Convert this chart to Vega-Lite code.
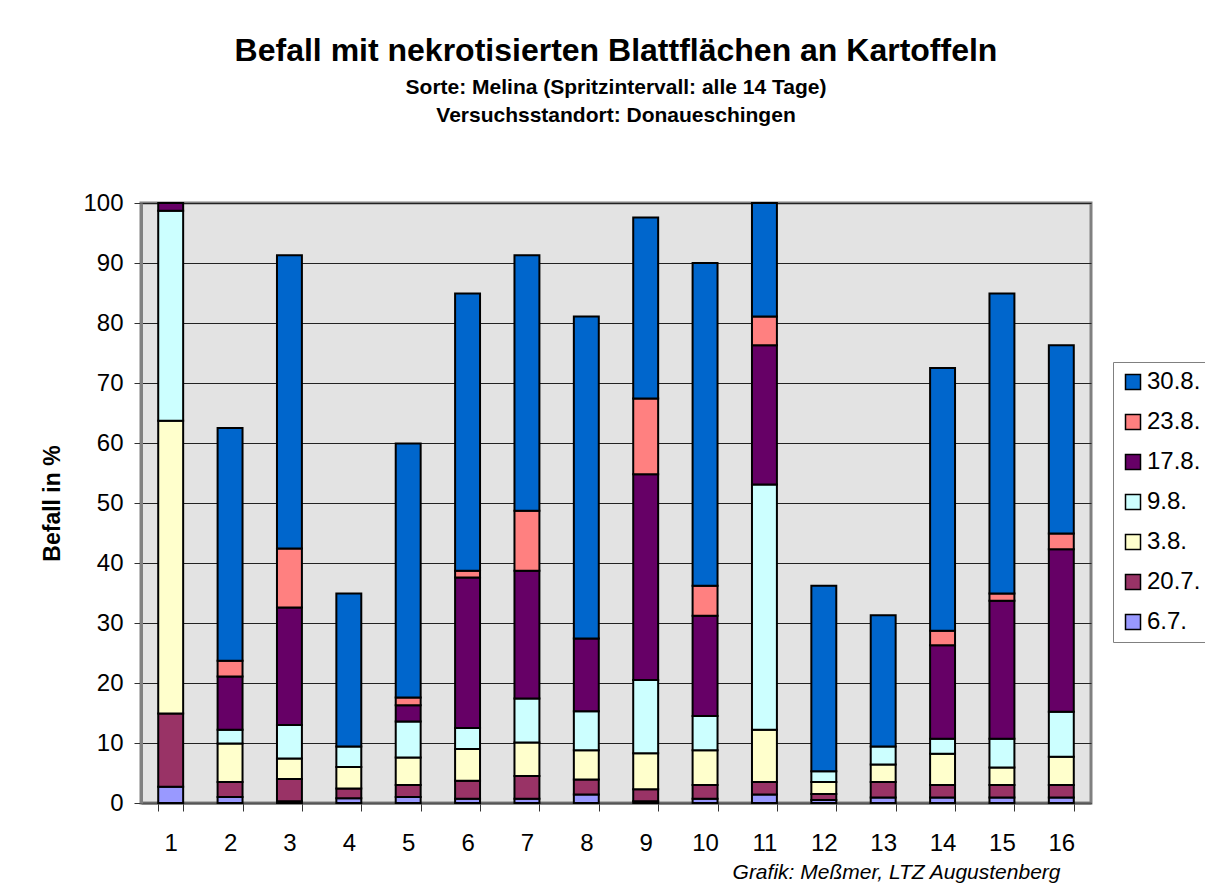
{
  "$schema": "https://vega.github.io/schema/vega-lite/v6.json",
  "width": 950,
  "height": 600,
  "autosize": "none",
  "padding": {"left": 141, "top": 203, "right": 114, "bottom": 80},
  "background": "white",
  "title": {
    "text": "Befall mit nekrotisierten Blattflächen an Kartoffeln",
    "subtitle": ["Sorte: Melina (Spritzintervall: alle 14 Tage)", "Versuchsstandort: Donaueschingen"],
    "anchor": "middle",
    "font": "Liberation Sans",
    "fontSize": 32,
    "fontWeight": "bold",
    "color": "black",
    "subtitleFont": "Liberation Sans",
    "subtitleFontSize": 21,
    "subtitleFontWeight": "bold",
    "subtitleColor": "black",
    "subtitleLineHeight": 28,
    "subtitlePadding": 9,
    "offset": 64
  },
  "data": {
    "values": [
      {"Variante": "1", "Datum": "6.7.", "Termin": "07-06", "Befall": 2.7},
      {"Variante": "1", "Datum": "20.7.", "Termin": "07-20", "Befall": 12.2},
      {"Variante": "1", "Datum": "3.8.", "Termin": "08-03", "Befall": 48.8},
      {"Variante": "1", "Datum": "9.8.", "Termin": "08-09", "Befall": 35.0},
      {"Variante": "1", "Datum": "17.8.", "Termin": "08-17", "Befall": 1.3},

      {"Variante": "2", "Datum": "6.7.", "Termin": "07-06", "Befall": 1.0},
      {"Variante": "2", "Datum": "20.7.", "Termin": "07-20", "Befall": 2.5},
      {"Variante": "2", "Datum": "3.8.", "Termin": "08-03", "Befall": 6.4},
      {"Variante": "2", "Datum": "9.8.", "Termin": "08-09", "Befall": 2.3},
      {"Variante": "2", "Datum": "17.8.", "Termin": "08-17", "Befall": 8.9},
      {"Variante": "2", "Datum": "23.8.", "Termin": "08-23", "Befall": 2.6},
      {"Variante": "2", "Datum": "30.8.", "Termin": "08-30", "Befall": 38.8},

      {"Variante": "3", "Datum": "6.7.", "Termin": "07-06", "Befall": 0.3},
      {"Variante": "3", "Datum": "20.7.", "Termin": "07-20", "Befall": 3.7},
      {"Variante": "3", "Datum": "3.8.", "Termin": "08-03", "Befall": 3.4},
      {"Variante": "3", "Datum": "9.8.", "Termin": "08-09", "Befall": 5.6},
      {"Variante": "3", "Datum": "17.8.", "Termin": "08-17", "Befall": 19.6},
      {"Variante": "3", "Datum": "23.8.", "Termin": "08-23", "Befall": 9.8},
      {"Variante": "3", "Datum": "30.8.", "Termin": "08-30", "Befall": 48.9},

      {"Variante": "4", "Datum": "6.7.", "Termin": "07-06", "Befall": 0.8},
      {"Variante": "4", "Datum": "20.7.", "Termin": "07-20", "Befall": 1.6},
      {"Variante": "4", "Datum": "3.8.", "Termin": "08-03", "Befall": 3.6},
      {"Variante": "4", "Datum": "9.8.", "Termin": "08-09", "Befall": 3.4},
      {"Variante": "4", "Datum": "30.8.", "Termin": "08-30", "Befall": 25.5},

      {"Variante": "5", "Datum": "6.7.", "Termin": "07-06", "Befall": 1.0},
      {"Variante": "5", "Datum": "20.7.", "Termin": "07-20", "Befall": 2.0},
      {"Variante": "5", "Datum": "3.8.", "Termin": "08-03", "Befall": 4.6},
      {"Variante": "5", "Datum": "9.8.", "Termin": "08-09", "Befall": 6.0},
      {"Variante": "5", "Datum": "17.8.", "Termin": "08-17", "Befall": 2.7},
      {"Variante": "5", "Datum": "23.8.", "Termin": "08-23", "Befall": 1.3},
      {"Variante": "5", "Datum": "30.8.", "Termin": "08-30", "Befall": 42.3},

      {"Variante": "6", "Datum": "6.7.", "Termin": "07-06", "Befall": 0.7},
      {"Variante": "6", "Datum": "20.7.", "Termin": "07-20", "Befall": 3.0},
      {"Variante": "6", "Datum": "3.8.", "Termin": "08-03", "Befall": 5.3},
      {"Variante": "6", "Datum": "9.8.", "Termin": "08-09", "Befall": 3.5},
      {"Variante": "6", "Datum": "17.8.", "Termin": "08-17", "Befall": 25.1},
      {"Variante": "6", "Datum": "23.8.", "Termin": "08-23", "Befall": 1.1},
      {"Variante": "6", "Datum": "30.8.", "Termin": "08-30", "Befall": 46.2},

      {"Variante": "7", "Datum": "6.7.", "Termin": "07-06", "Befall": 0.7},
      {"Variante": "7", "Datum": "20.7.", "Termin": "07-20", "Befall": 3.8},
      {"Variante": "7", "Datum": "3.8.", "Termin": "08-03", "Befall": 5.6},
      {"Variante": "7", "Datum": "9.8.", "Termin": "08-09", "Befall": 7.3},
      {"Variante": "7", "Datum": "17.8.", "Termin": "08-17", "Befall": 21.3},
      {"Variante": "7", "Datum": "23.8.", "Termin": "08-23", "Befall": 10.0},
      {"Variante": "7", "Datum": "30.8.", "Termin": "08-30", "Befall": 42.6},

      {"Variante": "8", "Datum": "6.7.", "Termin": "07-06", "Befall": 1.4},
      {"Variante": "8", "Datum": "20.7.", "Termin": "07-20", "Befall": 2.5},
      {"Variante": "8", "Datum": "3.8.", "Termin": "08-03", "Befall": 4.9},
      {"Variante": "8", "Datum": "9.8.", "Termin": "08-09", "Befall": 6.5},
      {"Variante": "8", "Datum": "17.8.", "Termin": "08-17", "Befall": 12.1},
      {"Variante": "8", "Datum": "30.8.", "Termin": "08-30", "Befall": 53.7},

      {"Variante": "9", "Datum": "6.7.", "Termin": "07-06", "Befall": 0.3},
      {"Variante": "9", "Datum": "20.7.", "Termin": "07-20", "Befall": 2.0},
      {"Variante": "9", "Datum": "3.8.", "Termin": "08-03", "Befall": 6.0},
      {"Variante": "9", "Datum": "9.8.", "Termin": "08-09", "Befall": 12.2},
      {"Variante": "9", "Datum": "17.8.", "Termin": "08-17", "Befall": 34.3},
      {"Variante": "9", "Datum": "23.8.", "Termin": "08-23", "Befall": 12.6},
      {"Variante": "9", "Datum": "30.8.", "Termin": "08-30", "Befall": 30.2},

      {"Variante": "10", "Datum": "6.7.", "Termin": "07-06", "Befall": 0.7},
      {"Variante": "10", "Datum": "20.7.", "Termin": "07-20", "Befall": 2.3},
      {"Variante": "10", "Datum": "3.8.", "Termin": "08-03", "Befall": 5.8},
      {"Variante": "10", "Datum": "9.8.", "Termin": "08-09", "Befall": 5.7},
      {"Variante": "10", "Datum": "17.8.", "Termin": "08-17", "Befall": 16.7},
      {"Variante": "10", "Datum": "23.8.", "Termin": "08-23", "Befall": 5.0},
      {"Variante": "10", "Datum": "30.8.", "Termin": "08-30", "Befall": 53.8},

      {"Variante": "11", "Datum": "6.7.", "Termin": "07-06", "Befall": 1.4},
      {"Variante": "11", "Datum": "20.7.", "Termin": "07-20", "Befall": 2.1},
      {"Variante": "11", "Datum": "3.8.", "Termin": "08-03", "Befall": 8.7},
      {"Variante": "11", "Datum": "9.8.", "Termin": "08-09", "Befall": 40.9},
      {"Variante": "11", "Datum": "17.8.", "Termin": "08-17", "Befall": 23.2},
      {"Variante": "11", "Datum": "23.8.", "Termin": "08-23", "Befall": 4.8},
      {"Variante": "11", "Datum": "30.8.", "Termin": "08-30", "Befall": 18.9},

      {"Variante": "12", "Datum": "6.7.", "Termin": "07-06", "Befall": 0.5},
      {"Variante": "12", "Datum": "20.7.", "Termin": "07-20", "Befall": 1.0},
      {"Variante": "12", "Datum": "3.8.", "Termin": "08-03", "Befall": 2.0},
      {"Variante": "12", "Datum": "9.8.", "Termin": "08-09", "Befall": 1.8},
      {"Variante": "12", "Datum": "30.8.", "Termin": "08-30", "Befall": 30.9},

      {"Variante": "13", "Datum": "6.7.", "Termin": "07-06", "Befall": 0.9},
      {"Variante": "13", "Datum": "20.7.", "Termin": "07-20", "Befall": 2.6},
      {"Variante": "13", "Datum": "3.8.", "Termin": "08-03", "Befall": 2.9},
      {"Variante": "13", "Datum": "9.8.", "Termin": "08-09", "Befall": 3.0},
      {"Variante": "13", "Datum": "30.8.", "Termin": "08-30", "Befall": 21.9},

      {"Variante": "14", "Datum": "6.7.", "Termin": "07-06", "Befall": 0.9},
      {"Variante": "14", "Datum": "20.7.", "Termin": "07-20", "Befall": 2.1},
      {"Variante": "14", "Datum": "3.8.", "Termin": "08-03", "Befall": 5.2},
      {"Variante": "14", "Datum": "9.8.", "Termin": "08-09", "Befall": 2.5},
      {"Variante": "14", "Datum": "17.8.", "Termin": "08-17", "Befall": 15.6},
      {"Variante": "14", "Datum": "23.8.", "Termin": "08-23", "Befall": 2.4},
      {"Variante": "14", "Datum": "30.8.", "Termin": "08-30", "Befall": 43.8},

      {"Variante": "15", "Datum": "6.7.", "Termin": "07-06", "Befall": 0.9},
      {"Variante": "15", "Datum": "20.7.", "Termin": "07-20", "Befall": 2.1},
      {"Variante": "15", "Datum": "3.8.", "Termin": "08-03", "Befall": 2.9},
      {"Variante": "15", "Datum": "9.8.", "Termin": "08-09", "Befall": 4.8},
      {"Variante": "15", "Datum": "17.8.", "Termin": "08-17", "Befall": 23.0},
      {"Variante": "15", "Datum": "23.8.", "Termin": "08-23", "Befall": 1.2},
      {"Variante": "15", "Datum": "30.8.", "Termin": "08-30", "Befall": 50.0},

      {"Variante": "16", "Datum": "6.7.", "Termin": "07-06", "Befall": 0.9},
      {"Variante": "16", "Datum": "20.7.", "Termin": "07-20", "Befall": 2.1},
      {"Variante": "16", "Datum": "3.8.", "Termin": "08-03", "Befall": 4.7},
      {"Variante": "16", "Datum": "9.8.", "Termin": "08-09", "Befall": 7.5},
      {"Variante": "16", "Datum": "17.8.", "Termin": "08-17", "Befall": 27.1},
      {"Variante": "16", "Datum": "23.8.", "Termin": "08-23", "Befall": 2.6},
      {"Variante": "16", "Datum": "30.8.", "Termin": "08-30", "Befall": 31.4}
    ]
  },
  "mark": {"type": "bar", "stroke": "black", "strokeWidth": 2},
  "encoding": {
    "x": {
      "field": "Variante",
      "type": "ordinal",
      "sort": ["1","2","3","4","5","6","7","8","9","10","11","12","13","14","15","16"],
      "scale": {"paddingInner": 0.58, "paddingOuter": 0.29},
      "axis": {
        "title": "Grafik: Meßmer, LTZ Augustenberg",
        "titleFont": "Liberation Sans",
        "titleFontSize": 21,
        "titleFontStyle": "italic",
        "titleFontWeight": "normal",
        "titleColor": "black",
        "titleAnchor": "end",
        "titleAlign": "right",
        "titleX": 919,
        "titleY": 58,
        "labelAngle": 0,
        "labelFont": "Liberation Sans",
        "labelFontSize": 24,
        "labelColor": "black",
        "labelPadding": 20,
        "tickBand": "extent",
        "tickSize": 8,
        "tickColor": "#333333",
        "domainColor": "#555555",
        "domainWidth": 2,
        "grid": false
      }
    },
    "y": {
      "field": "Befall",
      "type": "quantitative",
      "aggregate": "sum",
      "stack": "zero",
      "scale": {"domain": [0, 100], "nice": false},
      "axis": {
        "title": "Befall in %",
        "titleFont": "Liberation Sans",
        "titleFontSize": 23,
        "titleFontWeight": "bold",
        "titleColor": "black",
        "titlePadding": 18,
        "values": [0,10,20,30,40,50,60,70,80,90,100],
        "labelFont": "Liberation Sans",
        "labelFontSize": 24,
        "labelColor": "black",
        "labelPadding": 11,
        "tickSize": 7,
        "tickColor": "#333333",
        "domainColor": "#808080",
        "domainWidth": 3,
        "grid": true,
        "gridColor": "#222222",
        "gridWidth": 1
      }
    },
    "color": {
      "field": "Datum",
      "type": "nominal",
      "sort": ["30.8.", "23.8.", "17.8.", "9.8.", "3.8.", "20.7.", "6.7."],
      "scale": {
        "domain": ["30.8.", "23.8.", "17.8.", "9.8.", "3.8.", "20.7.", "6.7."],
        "range": ["#0066CC", "#FF8080", "#660066", "#CCFFFF", "#FFFFCC", "#993366", "#9999FF"]
      },
      "legend": {
        "title": null,
        "orient": "none",
        "legendX": 972,
        "legendY": 159,
        "padding": 8,
        "strokeColor": "#808080",
        "fillColor": "white",
        "symbolType": "square",
        "symbolSize": 225,
        "symbolStrokeColor": "black",
        "symbolStrokeWidth": 1.5,
        "symbolOpacity": 1,
        "labelFont": "Liberation Sans",
        "labelFontSize": 24,
        "labelColor": "black",
        "labelOffset": 2,
        "rowPadding": 16
      }
    },
    "order": {"field": "Termin", "type": "ordinal", "sort": "ascending"}
  },
  "config": {
    "view": {"fill": "#e3e3e3", "stroke": "#808080", "strokeWidth": 3}
  }
}
